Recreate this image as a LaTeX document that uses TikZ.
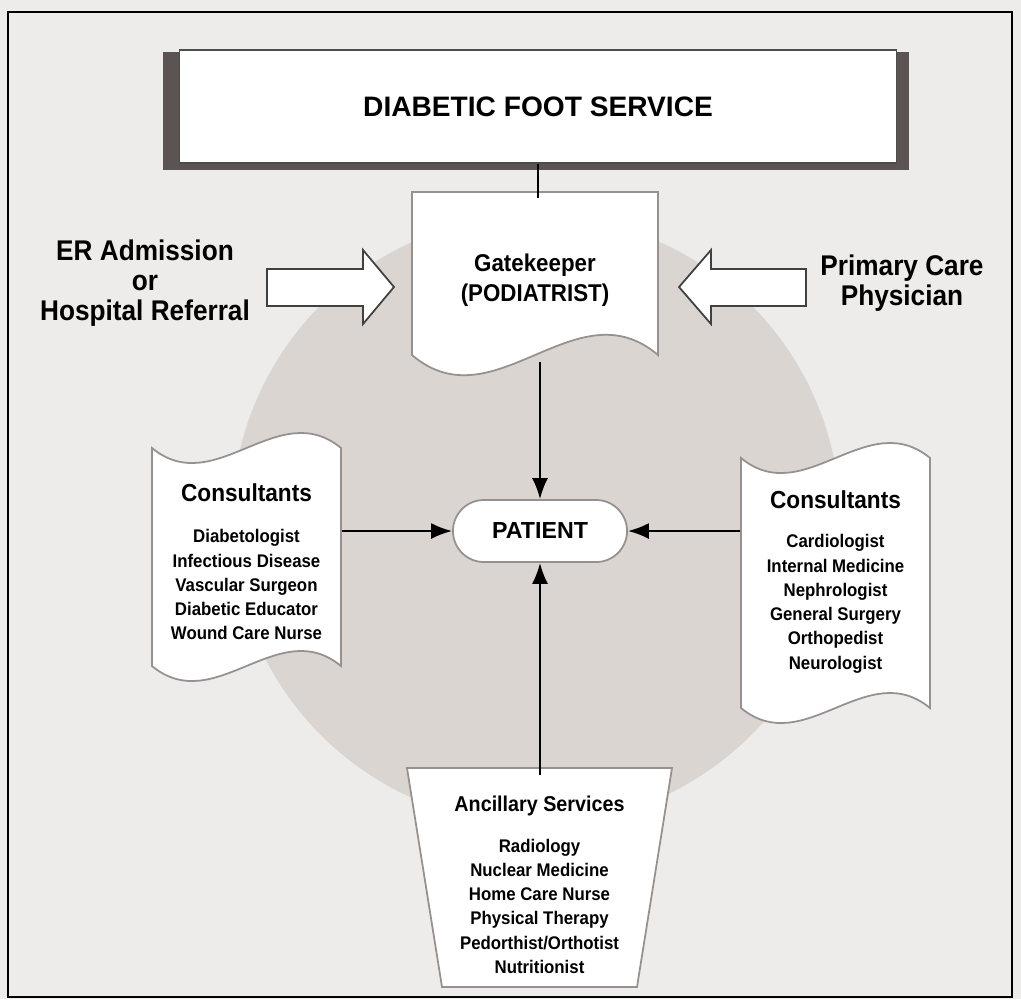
\documentclass[tikz,border=0pt]{standalone}
\usepackage{fontspec}
\setmainfont{Liberation Sans}[FakeStretch=0.92]
\newfontfamily\titlefont{Liberation Sans}
\usetikzlibrary{arrows.meta}

\definecolor{bggray}{RGB}{237,236,234}
\definecolor{discgray}{RGB}{219,213,210}
\definecolor{shadowgray}{RGB}{92,84,82}
\definecolor{edgegray}{RGB}{150,145,143}

\tikzset{
	boxedge/.style={fill=white, draw=edgegray, line width=0.5pt},
	listbox/.style={inner sep=0pt, align=center, font=\bfseries\fontsize{5.2}{6.9}\selectfont},
	link/.style={line width=0.6pt, -{Latex[length=2.1mm,width=1.6mm]}},
	bigarrow/.style={fill=white, draw=black!75, line width=0.5pt},
	sidetext/.style={align=center, font=\bfseries\fontsize{8.1}{8.5}\selectfont}
}

\begin{document}
\begin{tikzpicture}[x=0.01cm, y=-0.01cm]
	\useasboundingbox (0,0) rectangle (1021,999);
	\fill[bggray] (0,0) rectangle (1021,999);
	\draw[line width=0.7pt] (8,12) rectangle (1012,997);

	% grey disc behind everything
	\fill[discgray] (536,520) circle[radius=3.04cm];

	% title bar
	\fill[shadowgray] (163,52) rectangle (909,170);
	\node[fill=white, draw=black!70, line width=0.4pt, minimum width=7.16cm, minimum height=1.13cm,
		font=\titlefont\bfseries\fontsize{8}{9}\selectfont] (title) at (538,106.5) {DIABETIC FOOT SERVICE};

	% gatekeeper
	\draw[boxedge] (412,192) -- (658,192) -- (658,355)
		.. controls (576,285) and (494,425) .. (412,355) -- cycle;
	\node[inner sep=0pt, minimum width=2.46cm, minimum height=1.63cm, align=center,
		font=\bfseries\fontsize{6.9}{8.5}\selectfont] (gatekeeper) at (535,280)
		{Gatekeeper\\(PODIATRIST)};

	% entry arrows
	\draw[bigarrow] (267,269) -- (363,269) -- (363,250) -- (394,287)
		-- (363,324) -- (363,306) -- (267,306) -- cycle;
	\draw[bigarrow] (806,269) -- (711,269) -- (711,250) -- (679,287)
		-- (711,324) -- (711,306) -- (806,306) -- cycle;
	\node[sidetext] (er) at (145,283) {ER Admission\\or\\Hospital Referral};
	\node[sidetext] (pcp) at (902,283) {Primary Care\\Physician};

	% patient
	\node[boxedge, rounded corners=0.31cm, minimum width=1.74cm, minimum height=0.62cm,
		font=\titlefont\bfseries\fontsize{6.6}{8}\selectfont] (patient) at (540,531) {PATIENT};

	% consultants, left
	\draw[boxedge] (152,448) .. controls (215,500) and (278,396) .. (341,448)
		-- (341,666) .. controls (278,614) and (215,718) .. (152,666) -- cycle;
	\node[listbox, minimum width=1.89cm, minimum height=2.18cm] (consl) at (246.5,562)
		{{\fontsize{7}{6.9}\selectfont Consultants}\\[4.8pt]
		Diabetologist\\Infectious Disease\\Vascular Surgeon\\Diabetic Educator\\Wound Care Nurse};

	% consultants, right
	\draw[boxedge] (741,458) .. controls (804,510) and (867,406) .. (930,458)
		-- (930,708) .. controls (867,656) and (804,760) .. (741,708) -- cycle;
	\node[listbox, minimum width=1.89cm, minimum height=2.5cm] (consr) at (835.5,582)
		{{\fontsize{7}{6.9}\selectfont Consultants}\\[4.2pt]
		Cardiologist\\Internal Medicine\\Nephrologist\\General Surgery\\Orthopedist\\Neurologist};

	% ancillary services
	\draw[boxedge] (407,768) -- (672,768) -- (637,987) -- (442,987) -- cycle;
	\node[listbox, minimum width=2.65cm, minimum height=2.19cm] (ancillary) at (539.5,885)
		{{\fontsize{6.1}{6.9}\selectfont Ancillary Services}\\[4.5pt]
		Radiology\\Nuclear Medicine\\Home Care Nurse\\Physical Therapy\\Pedorthist/Orthotist\\Nutritionist};

	% connectors
	\draw[line width=0.4pt] (title.south) -- (title.south |- gatekeeper.north);
	\draw[link] (patient.north |- gatekeeper.south) -- (patient.north);
	\draw[link] (consl.east |- patient.west) -- (patient.west);
	\draw[link] (consr.west |- patient.east) -- (patient.east);
	\draw[link] (patient.south |- ancillary.north) -- (patient.south);
\end{tikzpicture}
\end{document}
